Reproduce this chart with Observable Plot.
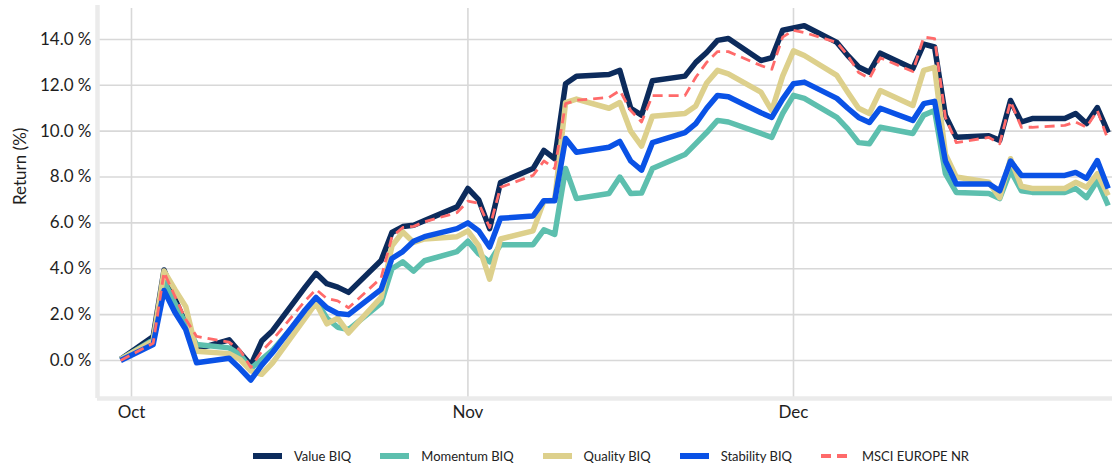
<!DOCTYPE html>
<html>
<head>
<meta charset="utf-8">
<script src="https://cdn.jsdelivr.net/npm/d3@7"></script>
<script src="https://cdn.jsdelivr.net/npm/@observablehq/plot@0.6"></script>
<style>
  html, body { margin: 0; padding: 0; background: #fff; }
  body { width: 1112px; height: 468px; overflow: hidden; font-family: Lato, "Noto Sans", sans-serif; }
  #legend { display: flex; align-items: center; padding-left: 253px; margin-top: 16px; font-size: 13px; color: #222; }
  .item { display: flex; align-items: center; margin-right: 29px; }
  .item svg { margin-right: 12px; }
</style>
</head>
<body>
<div id="chart"></div>
<div id="legend"></div>
<script>
// ---- data ----
const dates = [
  "2022-09-30",
  "2022-10-03","2022-10-04","2022-10-05","2022-10-06","2022-10-07",
  "2022-10-10","2022-10-11","2022-10-12","2022-10-13","2022-10-14",
  "2022-10-17","2022-10-18","2022-10-19","2022-10-20","2022-10-21",
  "2022-10-24","2022-10-25","2022-10-26","2022-10-27","2022-10-28",
  "2022-10-31","2022-11-01","2022-11-02","2022-11-03","2022-11-04",
  "2022-11-07","2022-11-08","2022-11-09","2022-11-10","2022-11-11",
  "2022-11-14","2022-11-15","2022-11-16","2022-11-17","2022-11-18",
  "2022-11-21","2022-11-22","2022-11-23","2022-11-24","2022-11-25",
  "2022-11-28","2022-11-29","2022-11-30","2022-12-01","2022-12-02",
  "2022-12-05","2022-12-06","2022-12-07","2022-12-08","2022-12-09",
  "2022-12-12","2022-12-13","2022-12-14","2022-12-15","2022-12-16",
  "2022-12-19","2022-12-20","2022-12-21","2022-12-22","2022-12-23",
  "2022-12-26","2022-12-27","2022-12-28","2022-12-29","2022-12-30"
];
const valueBIQ = [
  0.05,
  1.05, 3.95, 2.7, 1.6, 0.5,
  0.9, 0.35, -0.2, 0.85, 1.3,
  3.2, 3.8, 3.35, 3.2, 2.97,
  4.36, 5.58, 5.84, 5.9, 6.1,
  6.7, 7.5, 7.0, 5.75, 7.76,
  8.37, 9.16, 8.8, 12.07, 12.4,
  12.47, 12.65, 11.0, 10.7, 12.2,
  12.4, 13.0, 13.43, 13.96, 14.04,
  13.08, 13.2, 14.4, 14.5, 14.6,
  13.87, 13.3, 12.8, 12.57, 13.4,
  12.73, 13.8, 13.67, 10.68, 9.73,
  9.8, 9.6, 11.34, 10.4, 10.55,
  10.55, 10.77, 10.33, 11.03, 9.94
];
const momentumBIQ = [
  0.05,
  0.9, 3.45, 2.5, 1.6, 0.7,
  0.55, 0.25, -0.35, 0.05, 0.45,
  2.1, 2.6, 1.85, 1.45, 1.35,
  2.5, 4.0, 4.3, 3.9, 4.35,
  4.75, 5.2, 4.65, 4.3, 5.05,
  5.05, 5.7, 5.5, 8.37, 7.06,
  7.28, 8.0, 7.28, 7.3, 8.37,
  8.98, 9.46, 9.94, 10.47, 10.4,
  9.9, 9.73, 10.77, 11.56, 11.43,
  10.6, 10.1, 9.5, 9.45, 10.17,
  9.9, 10.7, 10.9, 8.15, 7.33,
  7.28, 7.06, 8.29, 7.4, 7.33,
  7.33, 7.5, 7.1, 7.85, 6.76
];
const qualityBIQ = [
  0.05,
  0.85, 3.9, 3.1, 2.35, 0.4,
  0.3, 0.05, -0.45, -0.6, -0.1,
  1.85, 2.5, 1.6, 1.85, 1.2,
  2.75, 5.0, 5.6, 5.15, 5.3,
  5.4, 5.65, 5.0, 3.55, 5.3,
  5.65, 6.95, 7.0, 11.25, 11.4,
  11.0, 11.25, 10.0, 9.35, 10.65,
  10.77, 11.1, 12.1, 12.65, 12.5,
  11.7, 10.9, 12.4, 13.5, 13.3,
  12.43, 11.7, 11.0, 10.77, 11.77,
  11.12, 12.65, 12.78, 9.0, 8.0,
  7.77, 7.1, 8.8, 7.6, 7.5,
  7.5, 7.77, 7.55, 8.15, 7.2
];
const stabilityBIQ = [
  0.0,
  0.7, 3.05, 2.1, 1.35, -0.1,
  0.1, -0.35, -0.85, -0.2, 0.35,
  2.2, 2.75, 2.3, 2.05, 2.0,
  3.1, 4.45, 4.75, 5.2, 5.4,
  5.75, 6.0, 5.65, 4.95, 6.2,
  6.3, 6.97, 6.97, 9.68, 9.08,
  9.3, 9.55, 8.7, 8.3, 9.5,
  9.94, 10.33, 11.0, 11.56, 11.5,
  10.8, 10.6, 11.4, 12.07, 12.14,
  11.43, 11.0, 10.6, 10.38, 11.0,
  10.47, 11.2, 11.3, 8.7, 7.7,
  7.7, 7.4, 8.7, 8.07, 8.07,
  8.07, 8.2, 7.94, 8.72, 7.5
];
const msciEuropeNR = [
  0.0,
  0.75, 3.85, 2.8, 1.8, 1.05,
  0.8, 0.45, -0.3, 0.4, 0.9,
  2.6, 3.1, 2.7, 2.6, 2.3,
  3.6, 5.4, 5.8, 5.85, 6.05,
  6.45, 6.95, 6.85, 5.8, 7.55,
  8.07, 8.7, 8.37, 11.2, 11.35,
  11.47, 11.77, 10.9, 10.4, 11.55,
  11.55, 12.35, 13.0, 13.47, 13.47,
  12.86, 12.7, 14.1, 14.4, 14.3,
  13.87, 13.3, 12.56, 12.3, 13.2,
  12.6, 14.1, 14.04, 10.6, 9.5,
  9.73, 9.45, 11.3, 10.17, 10.17,
  10.25, 10.4, 10.17, 10.9, 9.6
];
const seriesNames = ["Value BIQ", "Momentum BIQ", "Quality BIQ", "Stability BIQ", "MSCI EUROPE NR"];
const yTicks = [0, 2, 4, 6, 8, 10, 12, 14];
const yTitle = "Return (%)";
const monthTicks = ["2022-10-01", "2022-11-01", "2022-12-01"];
const monthLabels = ["Oct", "Nov", "Dec"];

// ---- styles ----
const seriesStyle = [
  {color: "#0c2b5c", width: 5.5, dash: null},
  {color: "#5dbfae", width: 5.5, dash: null},
  {color: "#ddd08c", width: 5.5, dash: null},
  {color: "#0a52e6", width: 5.5, dash: null},
  {color: "#ff6a6a", width: 2.8, dash: "10,6"}
];

const parse = d3.utcParse("%Y-%m-%d");
const allSeries = [valueBIQ, momentumBIQ, qualityBIQ, stabilityBIQ, msciEuropeNR];
const tables = allSeries.map((vals, i) => dates.map((d, j) => ({date: parse(d), value: vals[j], series: seriesNames[i]})));
const monthDates = monthTicks.map(parse);

const xDomain = [new Date(Date.UTC(2022, 8, 27, 20, 50)), new Date(Date.UTC(2022, 11, 30, 9, 30))];
const yDomain = [-1.657, 15.48];

const chart = Plot.plot({
  width: 1112,
  height: 432,
  marginLeft: 97,
  marginRight: 0,
  marginTop: 5,
  marginBottom: 34,
  style: {fontFamily: "Lato, 'Noto Sans', sans-serif", fontSize: "17px", color: "#1e1e1e", background: "#fff"},
  x: {type: "utc", domain: xDomain},
  y: {domain: yDomain},
  marks: [
    Plot.ruleY(yTicks, {stroke: "#d8d8d8", strokeWidth: 1.6}),
    Plot.ruleX(monthDates, {stroke: "#d8d8d8", strokeWidth: 1.6, y1: 15.35, y2: yDomain[0]}),
    Plot.ruleX([xDomain[0]], {stroke: "#ebebeb", strokeWidth: 4.5}),
    Plot.ruleY([yDomain[0]], {stroke: "#ebebeb", strokeWidth: 4.5}),
    ...tables.map((t, i) => Plot.line(t, {
      x: "date", y: "value",
      stroke: seriesStyle[i].color,
      strokeWidth: seriesStyle[i].width,
      strokeDasharray: seriesStyle[i].dash,
      strokeLinejoin: "round",
      strokeLinecap: "butt"
    })),
    Plot.axisY({ticks: yTicks, tickSize: 0, tickPadding: 6, tickFormat: d => d.toFixed(1) + " %", label: null, fontSize: 17}),
    Plot.text([yTitle], {frameAnchor: "left", rotate: -90, dx: -77, dy: 3, fontSize: 17, fill: "#1e1e1e"}),
    Plot.axisX({ticks: monthDates, tickSize: 0, tickPadding: 7, tickFormat: (d, i) => monthLabels[i], label: null, fontSize: 17})
  ]
});
document.getElementById("chart").appendChild(chart);

// ---- legend ----
const legend = d3.select("#legend");
seriesNames.forEach((name, i) => {
  const item = legend.append("div").attr("class", "item");
  const sw = item.append("svg").attr("width", 29).attr("height", 12);
  sw.append("line").attr("x1", 0).attr("x2", 29).attr("y1", 6).attr("y2", 6)
    .attr("stroke", seriesStyle[i].color)
    .attr("stroke-width", i === 4 ? 4 : 6)
    .attr("stroke-dasharray", i === 4 ? "10,6" : null);
  item.append("span").text(name);
});
</script>
</body>
</html>
